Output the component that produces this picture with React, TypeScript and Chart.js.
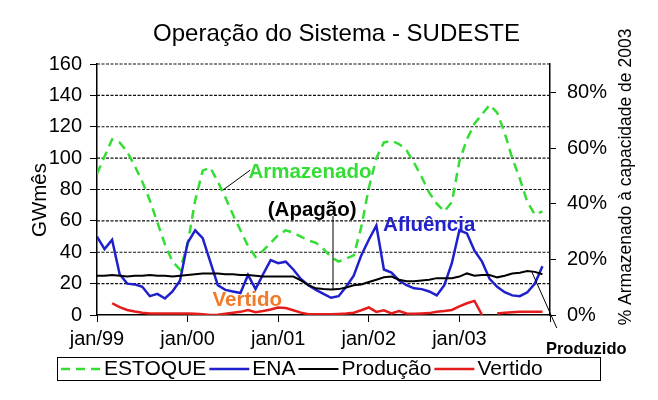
import React, { useEffect, useRef } from 'react';
import { Chart, registerables } from 'chart.js';

Chart.register(...registerables);

// ---- data (monthly, jan/99 .. dez/03) ----
const yearLabels = ['jan/99', 'jan/00', 'jan/01', 'jan/02', 'jan/03'];

const estoque = [
  90, 101, 112, 110, 104, 95, 85, 73, 59, 45,
  34, 29, 45, 73, 92, 94, 85, 75, 64, 54,
  44, 37, 41, 46, 51, 54, 52.5, 50, 47.5, 46,
  42, 37, 34, 36, 38, 56, 81, 100, 110, 111,
  109, 105, 97, 88, 78, 71, 66, 72, 98, 112,
  122, 128, 134, 129, 116, 100, 87, 72, 64, 66,
];

const ena = [
  50, 42, 48, 26, 20, 19.5, 18, 12, 13.5, 10.5,
  15, 22, 46, 54, 49, 34, 19, 16, 15, 14,
  25.5, 16.5, 26, 35, 33, 34, 29, 23, 19, 16,
  13.5, 11, 12, 18, 25, 38, 48, 57, 29, 27,
  22, 19, 17, 16.5, 15, 12.5, 19, 33, 54, 52,
  41, 34, 23, 18, 14.5, 12.5, 12, 14.5, 20, 31,
];

const producao = [
  25, 25, 25.5, 25, 24.5, 25, 25, 25.5, 25, 25,
  24.5, 25, 25.5, 26, 26.5, 26.5, 26.5, 26, 26, 25.5,
  25.5, 25, 24.5, 24.5, 24.5, 24.5, 24.5, 22, 19, 17,
  16.5, 16.3, 16.5, 17.5, 19, 19.5, 21, 22.5, 24, 24.5,
  22.5, 21.5, 21.5, 22, 22.5, 23.5, 23.5, 23.5, 24.5, 26.5,
  25, 25.5, 25.5, 24, 25, 26.5, 27, 28, 27.5, 26,
];

const vertido: (number | null)[] = [
  null, null, 7.5, 5, 3.2, 2.2, 1.5, 1, 1, 1,
  1, 1, 1, 0.8, 0.5, 0, 0.2, 0.8, 1.5, 2,
  3.2, 1.8, 2.5, 3.5, 4.8, 4.5, 3, 1.5, 0.5, 0.5,
  0.5, 0.5, 0.7, 1, 1.5, 3, 4.8, 2, 3, 1,
  2.5, 1, 0.8, 1, 1.2, 2, 2.5, 3.2, 5.5, 7.5,
  9, 0, null, 1, 1.5, 1.8, 2, 2, 2, 2,
];

const seriesNames = ['ESTOQUE', 'ENA', 'Produção', 'Vertido'];
const seriesColors = ['#33dd33', '#1f1fcc', '#000000', '#e41c1c'];

const FONT = "'Liberation Sans', Arial, Helvetica, sans-serif";

const toPoints = (arr: (number | null)[]) => arr.map((v, i) => ({ x: i, y: v }));

// dashed horizontal gridlines at the left-axis ticks (behind the series)
const gridPlugin = {
  id: 'dashedGrid',
  beforeDatasetsDraw(chart: any) {
    const { ctx, chartArea } = chart;
    const ys = chart.scales.y;
    ctx.save();
    ctx.strokeStyle = '#111';
    ctx.lineWidth = 1.2;
    ctx.setLineDash([3, 1.5]);
    ys.ticks.forEach((t: any) => {
      if (t.value <= 0) return;
      const yy = ys.getPixelForValue(t.value);
      ctx.beginPath();
      ctx.moveTo(chartArea.left, yy);
      ctx.lineTo(chartArea.right, yy);
      ctx.stroke();
    });
    ctx.restore();
  },
};

const overlayPlugin = {
  id: 'overlay',
  afterDraw(chart: any) {
    const { ctx } = chart;
    const xs = chart.scales.x;
    const ys = chart.scales.y;
    const px = (m: number) => xs.getPixelForValue(m);
    const py = (v: number) => ys.getPixelForValue(v);

    const text = (t: string, x: number, y: number, font: string, color: string, rot = 0, align: CanvasTextAlign = 'center') => {
      ctx.save();
      ctx.translate(x, y);
      if (rot) ctx.rotate(rot);
      ctx.font = font;
      ctx.fillStyle = color;
      ctx.textAlign = align;
      ctx.textBaseline = 'middle';
      ctx.fillText(t, 0, 0);
      ctx.restore();
    };
    const line = (x1: number, y1: number, x2: number, y2: number, w = 1) => {
      ctx.save();
      ctx.strokeStyle = '#000';
      ctx.lineWidth = w;
      ctx.beginPath();
      ctx.moveTo(x1, y1);
      ctx.lineTo(x2, y2);
      ctx.stroke();
      ctx.restore();
    };

    // title
    text('Operação do Sistema - SUDESTE', 336.5, 34, `24px ${FONT}`, '#000');
    // axis titles
    text('GWmês', 40, 200, `20.5px ${FONT}`, '#000', -Math.PI / 2);
    text('% Armazenado à capacidade de 2003', 626, 177, `17.5px ${FONT}`, '#000', -Math.PI / 2);

    // annotations (anchored in data units)
    line(px(16.7), py(79.7), px(20.3), py(92.4));
    text('Armazenado', px(28.2), py(91.1), `bold 20.5px ${FONT}`, '#33dd33');
    text('(Apagão)', px(28.5), py(66.9), `bold 20.5px ${FONT}`, '#000');
    line(px(31.26), py(63.1), px(31.26), py(16.6));
    text('Afluência', px(44), py(57.4), `bold 20.5px ${FONT}`, '#2222cc');
    text('Vertido', px(19.9), py(9.6), `bold 20.5px ${FONT}`, '#f07a28');
    line(px(57.6), py(27.4), px(60.9), py(-8.3));
    text('Produzido', px(64.8), py(-21.7), `bold 16.5px ${FONT}`, '#000');

    // legend
    ctx.save();
    ctx.strokeStyle = '#000';
    ctx.lineWidth = 1;
    ctx.strokeRect(57.5, 357.5, 543, 23);
    ctx.restore();
    const legendFont = `21px ${FONT}`;
    ctx.save();
    ctx.font = legendFont;
    let cx = 61;
    const cy = 369;
    chart.data.datasets.forEach((ds: any) => {
      ctx.save();
      ctx.strokeStyle = ds.borderColor;
      ctx.lineWidth = ds.borderWidth;
      ctx.setLineDash(ds.borderDash || []);
      ctx.beginPath();
      ctx.moveTo(cx, cy);
      ctx.lineTo(cx + 40, cy);
      ctx.stroke();
      ctx.restore();
      cx += 43;
      text(ds.label, cx, cy, legendFont, '#000', 0, 'left');
      cx += ctx.measureText(ds.label).width + 3;
    });
    ctx.restore();
  },
};

export default function App() {
  const ref = useRef<HTMLCanvasElement | null>(null);

  useEffect(() => {
    if (!ref.current) return;
    const lineWidths = [2.5, 2.5, 2, 2.5];
    const chart = new Chart(ref.current, {
      type: 'line',
      data: {
        datasets: [estoque, ena, producao, vertido].map((arr, i) => ({
          label: seriesNames[i],
          data: toPoints(arr),
          borderColor: seriesColors[i],
          backgroundColor: seriesColors[i],
          borderWidth: lineWidths[i],
          borderDash: i === 0 ? [9, 6] : [],
          pointRadius: 0,
          tension: 0,
          spanGaps: false,
          order: 4 - i,
          yAxisID: 'y',
        })),
      },
      plugins: [gridPlugin, overlayPlugin],
      options: {
        responsive: false,
        animation: false,
        layout: { padding: { top: 64, left: 0, right: 0, bottom: 0 } },
        plugins: {
          legend: { display: false },
          title: { display: false },
          tooltip: { enabled: false },
        },
        scales: {
          x: {
            type: 'linear',
            min: 0,
            max: 60,
            ticks: {
              stepSize: 12,
              color: '#000',
              font: { family: FONT, size: 20 },
              padding: 5,
              maxRotation: 0,
              callback: (v: any) => yearLabels[Math.round(Number(v) / 12)] ?? '',
            },
            grid: {
              drawOnChartArea: false,
              drawTicks: true,
              tickLength: 7,
              tickColor: '#000',
              tickWidth: 1,
            },
            border: { display: true, color: '#000', width: 1.5 },
            afterFit: (s: any) => { s.height = 85; },
          },
          y: {
            position: 'left',
            min: 0,
            max: 160,
            ticks: {
              stepSize: 20,
              color: '#000',
              font: { family: FONT, size: 20 },
              padding: 8,
            },
            grid: {
              drawOnChartArea: false,
              drawTicks: true,
              tickLength: 7,
              tickColor: '#000',
              tickWidth: 1,
            },
            border: { display: true, color: '#000', width: 1.5 },
            afterFit: (s: any) => { s.width = 97; },
          },
          y1: {
            position: 'right',
            display: true,
            min: 0,
            max: 90.3,
            ticks: {
              stepSize: 20,
              includeBounds: false,
              color: '#000',
              font: { family: FONT, size: 20 },
              padding: 11,
              callback: (v: any) => `${v}%`,
            },
            grid: {
              drawOnChartArea: false,
              drawTicks: true,
              tickLength: 6,
              tickColor: '#000',
            },
            border: { display: true, color: '#000', width: 1.5 },
            afterFit: (s: any) => { s.width = 108; },
          },
        },
      } as any,
    });
    return () => chart.destroy();
  }, []);

  return (
    <div style={{ position: 'fixed', left: 0, top: 0, width: 658, height: 400, background: '#fff' }}>
      <canvas ref={ref} width={658} height={400} style={{ display: 'block', width: 658, height: 400 }} />
    </div>
  );
}
